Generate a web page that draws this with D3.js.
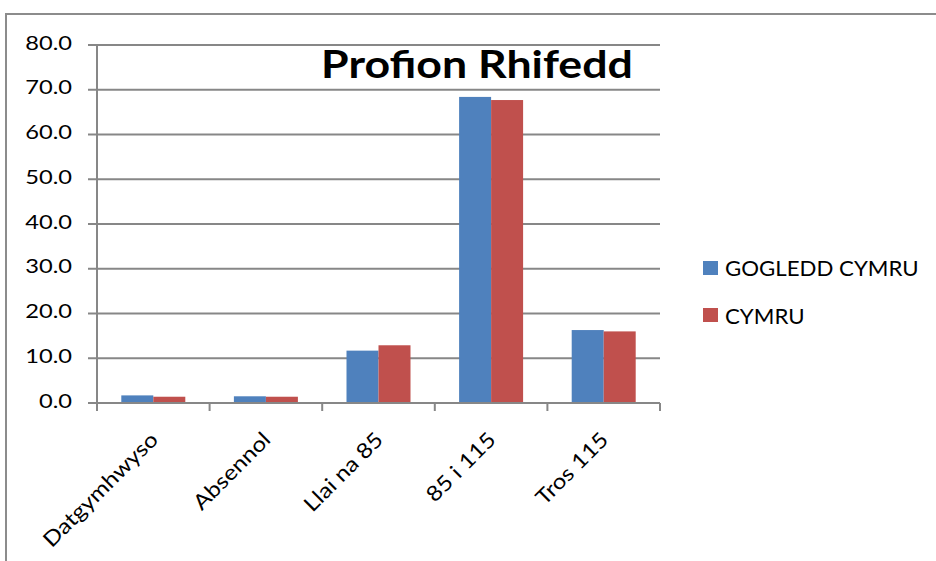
<!DOCTYPE html>
<html><head><meta charset="utf-8">
<script src="https://cdn.jsdelivr.net/npm/d3@7"></script>
<style>body{margin:0;background:#fff}svg{display:block}</style>
</head><body>
<script>
const categories = ["Datgymhwyso","Absennol","Llai na 85","85 i 115","Tros 115"];
const seriesNames = ["GOGLEDD CYMRU","CYMRU"];
const gogleddCymru = [1.7,1.5,11.7,68.4,16.3];
const cymru = [1.4,1.4,12.9,67.7,16.0];
const yTicks = [0,10,20,30,40,50,60,70,80];
const colors = ["#4F81BD","#C0504D"];
const title = "Profion Rhifedd";

(function(){
const W=936,H=561;
const font = "Lato, 'Open Sans', sans-serif";
const svg=d3.select("body").append("svg").attr("width",W).attr("height",H);

// outer border
svg.append("path").attr("d","M6,561V14H936").attr("fill","none").attr("stroke","#8c8c8c").attr("stroke-width",2);

const pLeft=97,pRight=660,pTop=45,pBottom=403;
const x=d3.scaleBand().domain(categories).range([pLeft,pRight]);
const y=d3.scaleLinear().domain([0,80]).range([pBottom,pTop]);

// gridlines
svg.append("g").selectAll("line").data(yTicks).join("line")
  .attr("x1",pLeft-9).attr("x2",pRight).attr("y1",d=>y(d)).attr("y2",d=>y(d))
  .attr("stroke","#878787").attr("stroke-width",2);

// y axis
svg.append("line").attr("x1",pLeft).attr("x2",pLeft).attr("y1",pTop).attr("y2",pBottom)
  .attr("stroke","#878787").attr("stroke-width",2);
svg.append("g").selectAll("text").data(yTicks).join("text")
  .attr("transform",d=>`translate(72,${y(d)-2}) scale(1.28,1)`)
  .attr("dy","0.36em").attr("text-anchor","end")
  .attr("font-family",font).attr("font-size",18.5).attr("fill","#000")
  .text(d=>d.toFixed(1));

// bars
const groupW=64, barW=32;
const series=[gogleddCymru,cymru];
series.forEach((vals,si)=>{
  svg.append("g").selectAll("rect").data(categories).join("rect")
    .attr("x",d=>x(d)+x.bandwidth()/2-groupW/2+si*barW)
    .attr("width",barW)
    .attr("y",(d,i)=>y(vals[i]))
    .attr("height",(d,i)=>y(0)-y(vals[i]))
    .attr("fill",colors[si]);
});

// x axis
const xAxis=svg.append("g");
xAxis.append("line").attr("x1",pLeft).attr("x2",pRight).attr("y1",pBottom).attr("y2",pBottom)
  .attr("stroke","#878787").attr("stroke-width",2);
const tickXs=categories.map(c=>x(c)).concat([pRight]);
xAxis.selectAll("line.t").data(tickXs).join("line").attr("class","t")
  .attr("x1",d=>d).attr("x2",d=>d).attr("y1",pBottom).attr("y2",pBottom+8)
  .attr("stroke","#878787").attr("stroke-width",2);
svg.append("g").selectAll("text").data(categories).join("text")
  .attr("text-anchor","end")
  .attr("transform",d=>`translate(${x(d)+x.bandwidth()/2+6},${pBottom+38}) rotate(-45) scale(1.15,1)`)
  .attr("font-family",font).attr("font-size",21).attr("fill","#000")
  .text(d=>d);

// title
svg.append("text").attr("transform","translate(477,78) scale(1.16,1)").attr("text-anchor","middle")
  .attr("font-family",font).attr("font-weight","bold").attr("font-size",38.5).attr("fill","#000")
  .text(title);

// legend
const lg=svg.append("g");
seriesNames.forEach((n,i)=>{
  lg.append("rect").attr("x",703).attr("y",261+i*47).attr("width",15).attr("height",14).attr("fill",colors[i]);
  lg.append("text").attr("transform",`translate(725,${276+i*48}) scale(1.06,1)`)
    .attr("font-family",font).attr("font-size",21).attr("fill","#000").text(n);
});
})();
</script>
</body></html>
